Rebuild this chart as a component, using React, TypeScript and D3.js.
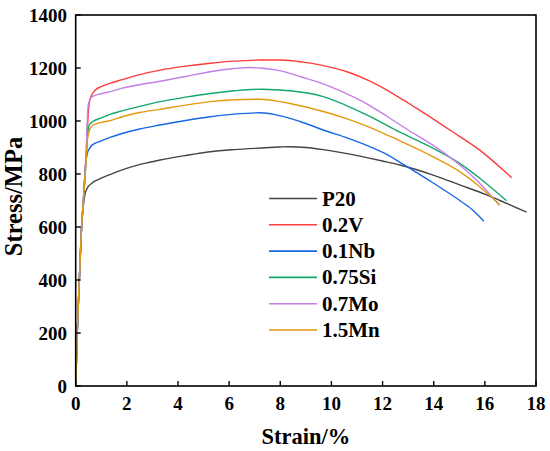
import React from "react";
import * as d3 from "d3";

const xTicks = [0, 2, 4, 6, 8, 10, 12, 14, 16, 18];
const yTicks = [0, 200, 400, 600, 800, 1000, 1200, 1400];

const seriesNames = ["P20", "0.2V", "0.1Nb", "0.75Si", "0.7Mo", "1.5Mn"];
const seriesColors = ["#444444", "#ff3b3b", "#1668e6", "#13a86a", "#c47ee8", "#e29a0c"];

const P20: [number, number][] = [
  [0, 0], [0.06, 200], [0.15, 420], [0.23, 600], [0.3, 680], [0.36, 722], [0.45, 746],
  [0.64, 766], [1.0, 784], [1.34, 798], [1.99, 821], [2.6, 838], [3.3, 853], [4.3, 870],
  [5.26, 884], [6.2, 892], [7.22, 898], [7.99, 902], [8.38, 903], [9.0, 900], [9.68, 892],
  [10.5, 879], [11.38, 862], [12.0, 849], [12.68, 834], [13.98, 796],
  [15.02, 759], [16.07, 721], [16.59, 700], [17.63, 656],
];
const V02: [number, number][] = [
  [0, 0], [0.06, 200], [0.15, 420], [0.23, 600], [0.3, 700], [0.4, 860], [0.5, 1040],
  [0.57, 1085], [0.77, 1117], [1.0, 1130], [1.34, 1142], [1.78, 1155], [2.5, 1175],
  [3.3, 1192], [4.3, 1207], [5.26, 1218], [6.2, 1226], [7.22, 1230], [8.0, 1230],
  [8.9, 1222], [9.68, 1209], [10.72, 1182], [11.38, 1156], [12.2, 1115], [13.0, 1068],
  [13.46, 1040], [14.63, 966], [15.8, 890], [17.05, 786],
];
const Nb01: [number, number][] = [
  [0, 0], [0.06, 200], [0.15, 420], [0.23, 600], [0.3, 700], [0.38, 830], [0.46, 880],
  [0.55, 898], [0.64, 909], [1.0, 925], [1.34, 938], [1.78, 952], [2.5, 970], [3.3, 985],
  [4.3, 1002], [5.26, 1016], [6.2, 1026], [7.22, 1031], [7.8, 1024], [8.38, 1010],
  [8.77, 998], [9.16, 985], [9.68, 966], [10.5, 940], [11.38, 908], [12.2, 872],
  [12.75, 840], [13.98, 766], [15.02, 700], [15.5, 666], [15.96, 622],
];
const Si075: [number, number][] = [
  [0, 0], [0.06, 200], [0.15, 420], [0.23, 600], [0.3, 700], [0.4, 840], [0.47, 950],
  [0.53, 985], [0.66, 997], [1.0, 1012], [1.34, 1025], [1.78, 1037], [2.5, 1055],
  [3.3, 1073], [4.3, 1090], [5.26, 1104], [6.2, 1114], [7.22, 1120], [7.99, 1117],
  [8.38, 1114], [9.68, 1092], [10.5, 1062], [11.38, 1023], [12.68, 958], [13.98, 897],
  [15.02, 840], [15.8, 784], [16.85, 699],
];
const Mo07: [number, number][] = [
  [0, 0], [0.06, 200], [0.15, 420], [0.23, 600], [0.3, 700], [0.4, 860], [0.48, 1050],
  [0.55, 1080], [0.64, 1092], [1.0, 1103], [1.34, 1111], [1.78, 1123], [2.5, 1137],
  [3.3, 1150], [4.3, 1168], [5.26, 1186], [6.2, 1198], [6.81, 1202], [7.22, 1200],
  [7.87, 1192], [8.38, 1180], [8.77, 1168], [9.68, 1140], [10.5, 1107], [11.38, 1065],
  [12.2, 1016], [13.0, 966], [13.98, 908], [15.02, 834], [15.8, 765], [16.56, 683],
];
const Mn15: [number, number][] = [
  [0, 0], [0.06, 200], [0.15, 420], [0.23, 600], [0.3, 700], [0.4, 840], [0.46, 930],
  [0.52, 960], [0.64, 982], [1.0, 995], [1.34, 1001], [1.78, 1015], [2.5, 1032],
  [3.3, 1044], [4.3, 1060], [5.26, 1073], [6.2, 1080], [7.22, 1082], [7.99, 1073],
  [8.38, 1066], [9.68, 1036], [10.5, 1012], [11.38, 981], [12.68, 925], [13.98, 865],
  [15.02, 809], [15.8, 752], [16.59, 683],
];

const seriesData = [P20, V02, Nb01, Si075, Mo07, Mn15];

const W = 550;
const H = 451;
const left = 75.7;
const right = 536;
const top = 15;
const bottom = 386;
const font = '"Liberation Serif", "Times New Roman", "DejaVu Serif", serif';

export default function App() {
  const x = d3.scaleLinear().domain([0, 18]).range([left, right]);
  const y = d3.scaleLinear().domain([0, 1400]).range([bottom, top]);
  const line = d3
    .line<[number, number]>()
    .x((d) => x(d[0]))
    .y((d) => y(d[1]))
    .curve(d3.curveMonotoneX);

  const legX0 = 269;
  const legX1 = 317;
  const legY0 = 198.5;
  const legDy = 26.3;
  const txt: React.CSSProperties = { fontFamily: font, fontWeight: "bold" };

  return (
    <svg
      width={W}
      height={H}
      style={{ position: "absolute", left: 0, top: 0, background: "#fff" }}
    >
      <rect x={0} y={0} width={W} height={H} fill="#fff" />
      {seriesData.map((d, i) => (
        <path
          key={seriesNames[i]}
          d={line(d) || ""}
          fill="none"
          stroke={seriesColors[i]}
          strokeWidth={1.4}
          strokeLinejoin="round"
        />
      ))}
      <rect
        x={left}
        y={top}
        width={right - left}
        height={bottom - top}
        fill="none"
        stroke="#000"
        strokeWidth={1.6}
      />
      {xTicks.map((t) => (
        <g key={"x" + t}>
          <line x1={x(t)} x2={x(t)} y1={bottom} y2={bottom - 5} stroke="#000" strokeWidth={1.4} />
          <text x={x(t)} y={410} textAnchor="middle" fontSize={19} style={txt}>
            {t}
          </text>
        </g>
      ))}
      {yTicks.map((t) => (
        <g key={"y" + t}>
          <line x1={left} x2={left + 5} y1={y(t)} y2={y(t)} stroke="#000" strokeWidth={1.4} />
          <text x={67} y={y(t)} dy="0.35em" textAnchor="end" fontSize={19} style={txt}>
            {t}
          </text>
        </g>
      ))}
      <text x={(left + right) / 2} y={444} textAnchor="middle" fontSize={22.5} style={txt}>
        Strain/%
      </text>
      <text
        transform={`translate(22, ${(top + bottom) / 2 - 4}) rotate(-90)`}
        textAnchor="middle"
        fontSize={24.5}
        style={txt}
      >
        Stress/MPa
      </text>
      {seriesNames.map((n, i) => (
        <g key={"leg" + n}>
          <line
            x1={legX0}
            x2={legX1}
            y1={legY0 + i * legDy}
            y2={legY0 + i * legDy}
            stroke={seriesColors[i]}
            strokeWidth={1.6}
          />
          <text x={322} y={legY0 + i * legDy + 7} fontSize={21} style={txt}>
            {n}
          </text>
        </g>
      ))}
    </svg>
  );
}
